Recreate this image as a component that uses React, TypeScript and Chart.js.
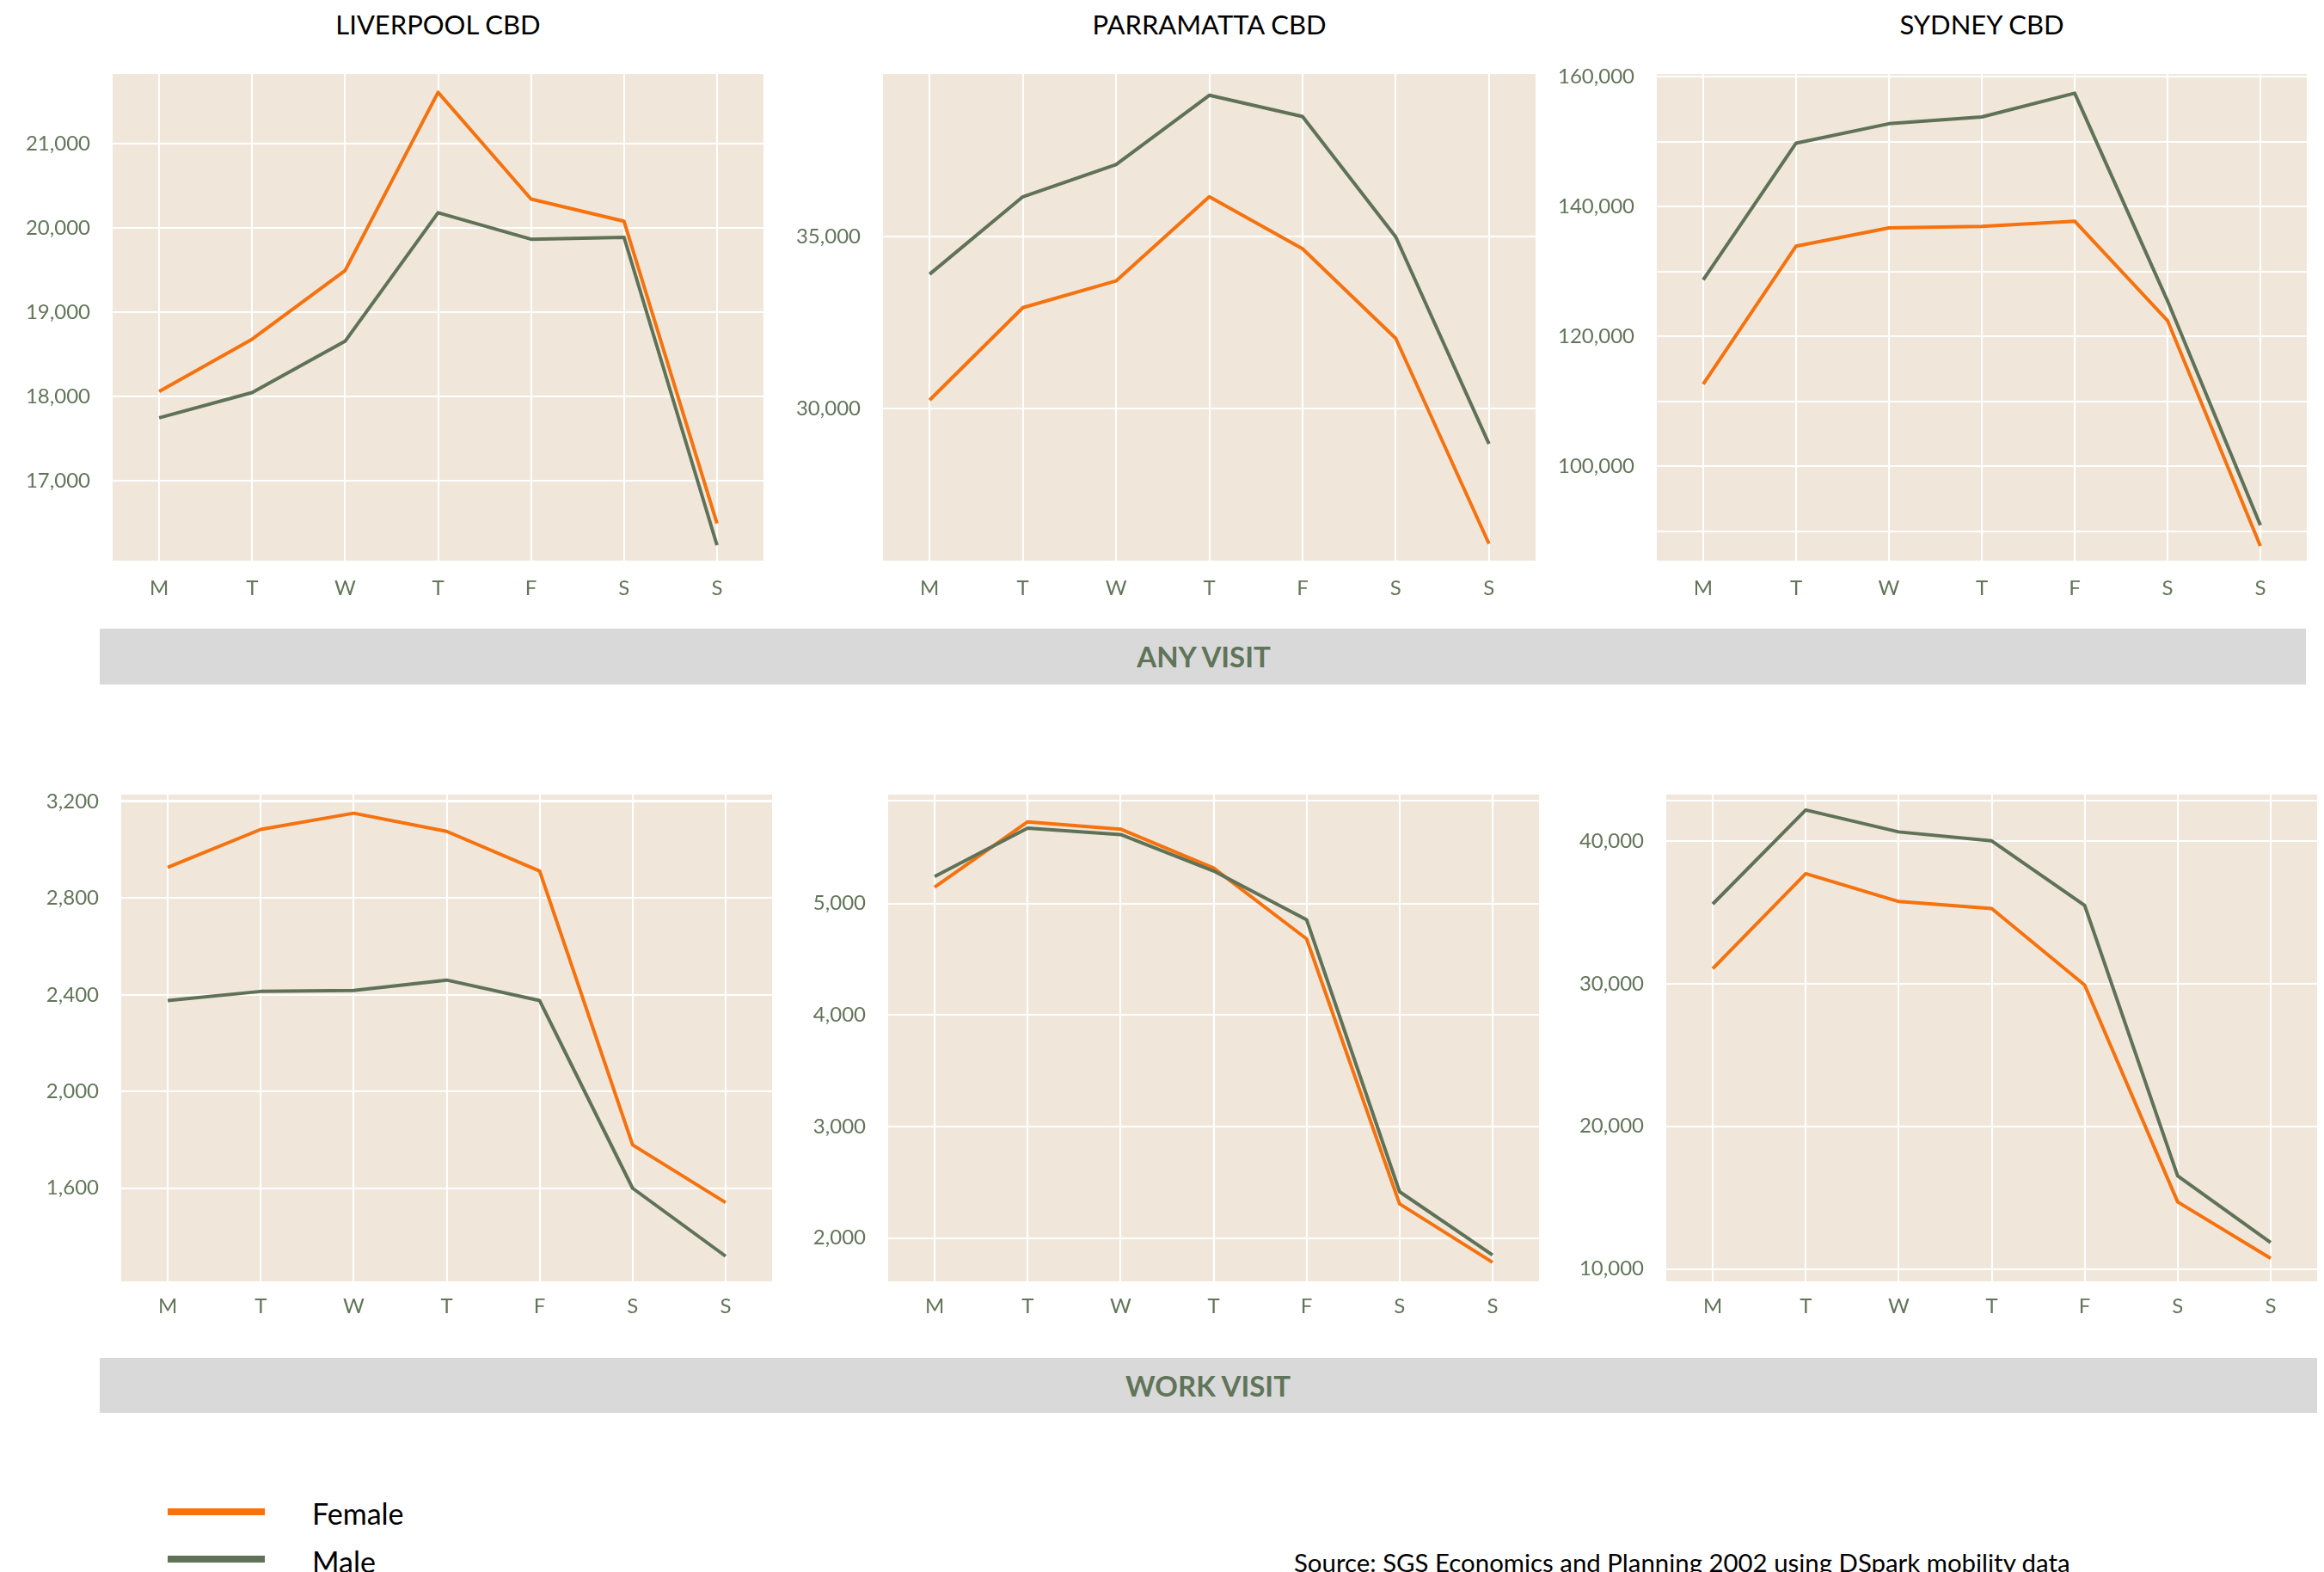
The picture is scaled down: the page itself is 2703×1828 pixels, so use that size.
import React, { useEffect, useRef } from 'react';
import { Chart, registerables } from 'chart.js';

Chart.register(...registerables);

// ---------- data ----------
const days = ['M', 'T', 'W', 'T', 'F', 'S', 'S'];

const liverpoolAnyFemale = [18060, 18680, 19495, 21612, 20344, 20081, 16493];
const liverpoolAnyMale = [17746, 18046, 18656, 20182, 19868, 19890, 16234];
const parramattaAnyFemale = [30241, 32936, 33716, 36170, 34656, 32041, 26055];
const parramattaAnyMale = [33911, 36170, 37110, 39128, 38509, 35000, 28968];
const sydneyAnyFemale = [112683, 133902, 136707, 136951, 137744, 122439, 87758];
const sydneyAnyMale = [128720, 149756, 152744, 153780, 157439, 125488, 90970];

const liverpoolWorkFemale = [2927, 3084, 3151, 3076, 2912, 1779, 1541];
const liverpoolWorkMale = [2376, 2414, 2418, 2461, 2376, 1600, 1319];
const parramattaWorkFemale = [5146, 5733, 5667, 5318, 4683, 2306, 1782];
const parramattaWorkMale = [5243, 5676, 5619, 5292, 4855, 2415, 1847];
const sydneyWorkFemale = [31045, 37700, 35750, 35260, 29900, 14708, 10756];
const sydneyWorkMale = [35575, 42160, 40627, 40000, 35470, 16529, 11856];

const liverpoolAnyGrid = [17000, 18000, 19000, 20000, 21000];
const liverpoolAnyLabels = [17000, 18000, 19000, 20000, 21000];
const parramattaAnyGrid = [30000, 35000];
const parramattaAnyLabels = [30000, 35000];
const sydneyAnyGrid = [90000, 100000, 110000, 120000, 130000, 140000, 150000, 160000];
const sydneyAnyLabels = [100000, 120000, 140000, 160000];
const liverpoolWorkGrid = [1600, 2000, 2400, 2800, 3200];
const liverpoolWorkLabels = [1600, 2000, 2400, 2800, 3200];
const parramattaWorkGrid = [2000, 3000, 4000, 5000];
const parramattaWorkLabels = [2000, 3000, 4000, 5000];
const sydneyWorkGrid = [10000, 20000, 30000, 40000];
const sydneyWorkLabels = [10000, 20000, 30000, 40000];

const titles = ['LIVERPOOL CBD', 'PARRAMATTA CBD', 'SYDNEY CBD'];
const bannerTexts = ['ANY VISIT', 'WORK VISIT'];
const legendLabels = ['Female', 'Male'];
const sourceText = 'Source: SGS Economics and Planning 2002 using DSpark mobility data';

// ---------- styles ----------
const FONT = 'Lato, "Open Sans", sans-serif';
const FEMALE = '#f5720e';
const MALE = '#5f7257';
const TICK = '#627559';
const PLOT_BG = '#f0e7da';
const BANNER_BG = '#d9d9d9';
const BANNER_TEXT = '#5f7459';

const Y_W = 120;
const X_H = 60;
const PAD_T = 46;
const PAD_R = 16;

type PanelDef = {
  L: number; R: number; T: number; B: number;
  female: number[]; male: number[];
  min: number; max: number;
  grid: number[]; labels: number[];
  xPad: number; topLine: boolean;
};

const panels: PanelDef[] = [
  { L: 131, R: 888, T: 86, B: 652, female: liverpoolAnyFemale, male: liverpoolAnyMale, min: 16050, max: 21830, grid: liverpoolAnyGrid, labels: liverpoolAnyLabels, xPad: 18, topLine: false },
  { L: 1027, R: 1786, T: 86, B: 652, female: parramattaAnyFemale, male: parramattaAnyMale, min: 25560, max: 39750, grid: parramattaAnyGrid, labels: parramattaAnyLabels, xPad: 18, topLine: false },
  { L: 1927, R: 2683, T: 86, B: 652, female: sydneyAnyFemale, male: sydneyAnyMale, min: 85500, max: 160400, grid: sydneyAnyGrid, labels: sydneyAnyLabels, xPad: 18, topLine: false },
  { L: 141, R: 898, T: 924, B: 1490, female: liverpoolWorkFemale, male: liverpoolWorkMale, min: 1215, max: 3228, grid: liverpoolWorkGrid, labels: liverpoolWorkLabels, xPad: 15, topLine: true },
  { L: 1033, R: 1790, T: 924, B: 1490, female: parramattaWorkFemale, male: parramattaWorkMale, min: 1611, max: 5977, grid: parramattaWorkGrid, labels: parramattaWorkLabels, xPad: 15, topLine: true },
  { L: 1938, R: 2695, T: 924, B: 1490, female: sydneyWorkFemale, male: sydneyWorkMale, min: 9141, max: 43240, grid: sydneyWorkGrid, labels: sydneyWorkLabels, xPad: 15, topLine: true },
];

const plotBgPlugin = {
  id: 'plotBg',
  beforeDraw(chart: any, _args: any, opts: any) {
    const { ctx, chartArea } = chart;
    ctx.save();
    ctx.fillStyle = opts.color;
    ctx.fillRect(chartArea.left, chartArea.top, chartArea.right - chartArea.left, chartArea.bottom - chartArea.top);
    ctx.restore();
  },
  beforeDatasetsDraw(chart: any, _args: any, opts: any) {
    if (!opts.topLine) return;
    const { ctx, chartArea } = chart;
    ctx.save();
    ctx.strokeStyle = '#ffffff';
    ctx.lineWidth = 2;
    ctx.beginPath();
    ctx.moveTo(chartArea.left, chartArea.top + 7);
    ctx.lineTo(chartArea.right, chartArea.top + 7);
    ctx.stroke();
    ctx.restore();
  },
};

function Panel({ p }: { p: PanelDef }) {
  const ref = useRef<HTMLCanvasElement | null>(null);
  const left = p.L - Y_W;
  const top = p.T - PAD_T;
  const width = p.R - p.L + Y_W + PAD_R;
  const height = p.B - p.T + X_H + PAD_T;

  useEffect(() => {
    if (!ref.current) return;
    const chart = new Chart(ref.current, {
      type: 'line',
      data: {
        labels: days,
        datasets: [
          { label: 'Male', data: p.male, borderColor: MALE, backgroundColor: MALE, borderWidth: 4, pointRadius: 0, tension: 0, fill: false, borderJoinStyle: 'round' },
          { label: 'Female', data: p.female, borderColor: FEMALE, backgroundColor: FEMALE, borderWidth: 4, pointRadius: 0, tension: 0, fill: false, borderJoinStyle: 'round' },
        ],
      },
      options: {
        animation: false,
        responsive: false,
        devicePixelRatio: 1,
        events: [],
        layout: { padding: { top: PAD_T, right: PAD_R, left: 0, bottom: 0 } },
        plugins: {
          legend: { display: false },
          tooltip: { enabled: false },
          title: { display: false },
          plotBg: { color: PLOT_BG, topLine: p.topLine },
        } as any,
        scales: {
          x: {
            type: 'category',
            offset: true,
            grid: { color: '#ffffff', lineWidth: 2, drawTicks: false, offset: false },
            border: { display: false },
            ticks: { color: TICK, font: { family: FONT, size: 24 }, padding: p.xPad, maxRotation: 0, autoSkip: false },
            afterFit: (s: any) => { s.height = X_H; },
          },
          y: {
            type: 'linear',
            min: p.min,
            max: p.max,
            grid: { color: '#ffffff', lineWidth: 2, drawTicks: false },
            border: { display: false },
            ticks: {
              color: TICK,
              font: { family: FONT, size: 24 },
              padding: 26,
              callback: (v: any) => (p.labels.includes(Number(v)) ? Number(v).toLocaleString('en-US') : ''),
            },
            afterBuildTicks: (s: any) => { s.ticks = p.grid.map((v) => ({ value: v })); },
            afterFit: (s: any) => { s.width = Y_W; },
          },
        },
      } as any,
      plugins: [plotBgPlugin as any],
    });
    return () => chart.destroy();
  }, []);

  return (
    <canvas
      ref={ref}
      width={width}
      height={height}
      style={{ position: 'absolute', left, top, width, height }}
    />
  );
}

export default function App() {
  useEffect(() => {
    document.body.style.margin = '0';
    document.body.style.overflow = 'hidden';
  }, []);

  const topRow = panels.slice(0, 3);

  return (
    <div style={{ position: 'relative', width: 2703, height: 1828, overflow: 'hidden', background: '#ffffff', fontFamily: FONT }}>
      {topRow.map((p, i) => (
        <div key={'t' + i} style={{ position: 'absolute', left: p.L, width: p.R - p.L, top: 8, height: 40, lineHeight: '40px', textAlign: 'center', fontSize: 31, color: '#000000', whiteSpace: 'nowrap' }}>
          {titles[i]}
        </div>
      ))}

      {panels.map((p, i) => <Panel key={i} p={p} />)}

      <div style={{ position: 'absolute', left: 116, width: 2682 - 116, top: 731, height: 65, background: BANNER_BG }} />
      <div style={{ position: 'absolute', left: 1200, width: 400, top: 731, height: 65, lineHeight: '65px', textAlign: 'center', fontSize: 33, fontWeight: 700, color: BANNER_TEXT, whiteSpace: 'nowrap' }}>
        {bannerTexts[0]}
      </div>

      <div style={{ position: 'absolute', left: 116, width: 2695 - 116, top: 1579, height: 64, background: BANNER_BG }} />
      <div style={{ position: 'absolute', left: 1205, width: 400, top: 1579, height: 64, lineHeight: '64px', textAlign: 'center', fontSize: 33, fontWeight: 700, color: BANNER_TEXT, whiteSpace: 'nowrap' }}>
        {bannerTexts[1]}
      </div>

      <div style={{ position: 'absolute', left: 195, width: 113, top: 1754, height: 8, background: FEMALE }} />
      <div style={{ position: 'absolute', left: 363, top: 1738, height: 44, lineHeight: '44px', fontSize: 34, color: '#000000', whiteSpace: 'nowrap' }}>
        {legendLabels[0]}
      </div>
      <div style={{ position: 'absolute', left: 195, width: 113, top: 1809, height: 8, background: MALE }} />
      <div style={{ position: 'absolute', left: 363, top: 1794, height: 44, lineHeight: '44px', fontSize: 34, color: '#000000', whiteSpace: 'nowrap' }}>
        {legendLabels[1]}
      </div>

      <div style={{ position: 'absolute', left: 1505, top: 1797, height: 40, lineHeight: '40px', fontSize: 29.4, color: '#000000', whiteSpace: 'nowrap' }}>
        {sourceText}
      </div>
    </div>
  );
}
